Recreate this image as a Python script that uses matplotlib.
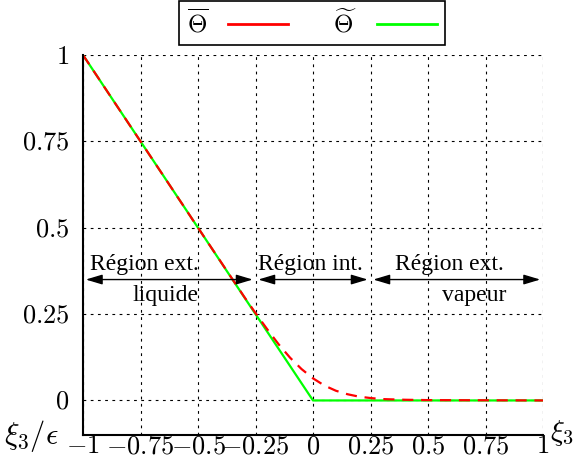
import matplotlib
matplotlib.use('Agg')
from matplotlib import pyplot as plt

plt.rcParams['mathtext.fontset'] = 'cm'
plt.rcParams['font.family'] = ['Liberation Serif', 'DejaVu Serif']

# data
x_green = [-1.0, 0.0, 1.0]
y_green = [1.0, 0.0, 0.0]

x_red = [-1.0, -0.5, -0.3, -0.25, -0.2, -0.15, -0.1, -0.05, 0.0, 0.05,
         0.1, 0.15, 0.2, 0.25, 0.3, 0.4, 0.5, 1.0]
y_red = [1.0, 0.5, 0.301, 0.253, 0.207, 0.163, 0.124, 0.091, 0.064, 0.043,
         0.028, 0.018, 0.011, 0.007, 0.004, 0.002, 0.001, 0.0]

xticks = [-1, -0.75, -0.5, -0.25, 0, 0.25, 0.5, 0.75, 1]
xtick_labels = ['$-1$', '$-0.75$', '$-0.5$', '$-0.25$', '$0$', '$0.25$', '$0.5$', '$0.75$', '$1$']
yticks = [0, 0.25, 0.5, 0.75, 1]
ytick_labels = ['$0$', '$0.25$', '$0.5$', '$0.75$', '$1$']

# (start, end, upper text, x of upper text, lower text, x of lower text)
regions = [(-1.0, -0.25, 'Région ext.', -0.735, 'liquide', -0.64),
           (-0.25, 0.25, 'Région int.', -0.013, '', 0),
           (0.25, 1.0, 'Région ext.', 0.595, 'vapeur', 0.70)]

fig = plt.figure(figsize=(5.75, 4.62), dpi=100)
ax = fig.add_axes([83/575, 27/462, 460/575, 380/462])

ax.set_xlim(-1, 1)
ax.set_ylim(-0.1, 1)
ax.spines['top'].set_visible(False)
ax.spines['right'].set_visible(False)
ax.spines['left'].set_bounds(-0.1, 1)
ax.spines['left'].set_linewidth(1.5)
ax.spines['bottom'].set_linewidth(1.5)

ax.set_xticks(xticks)
ax.set_xticklabels(xtick_labels)
ax.set_yticks(yticks)
ax.set_yticklabels(ytick_labels)
ax.tick_params(axis='both', length=0, labelsize=19)
ax.tick_params(axis='x', pad=1)
ax.tick_params(axis='y', pad=10)
ax.grid(True, color='black', linestyle=(0, (2.5, 4)), linewidth=0.8)

g, = ax.plot(x_green, y_green, color='#00ff00', lw=1.6, label=r'$\widetilde{\Theta}$')
r, = ax.plot(x_red, y_red, color='#ff0000', lw=1.6, linestyle=(0, (5, 3.5)),
             label=r'$\overline{\Theta}$')

for x0, x1, top, xt, bottom, xb in regions:
    ax.annotate('', xy=(x0, 0.35), xytext=(x1, 0.35),
                arrowprops=dict(arrowstyle='<|-|>,head_length=1.0,head_width=0.3',
                                color='black', lw=1, shrinkA=2, shrinkB=2))
    ax.text(xt, 0.364, top, ha='center', va='bottom', fontsize=17)
    if bottom:
        ax.text(xb, 0.333, bottom, ha='center', va='top', fontsize=17)

leg = fig.legend(handles=[r, g], loc='center', bbox_to_anchor=(312/575, 1 - 23/462),
                 ncol=2, markerfirst=False, fancybox=False, framealpha=1,
                 edgecolor='black', fontsize=18, handlelength=2.4,
                 columnspacing=1.8, borderpad=0.3, handletextpad=0.8)
leg.get_frame().set_linewidth(1.2)
for h in leg.get_lines():
    h.set_linestyle('-')
    h.set_linewidth(2)

fig.text(4/575, 1 - 436/462, r'$\xi_3/\epsilon$', fontsize=22, ha='left', va='center')
fig.text(550/575, 1 - 433/462, r'$\xi_3$', fontsize=21, ha='left', va='center')

plt.savefig('out.png', dpi=100)
